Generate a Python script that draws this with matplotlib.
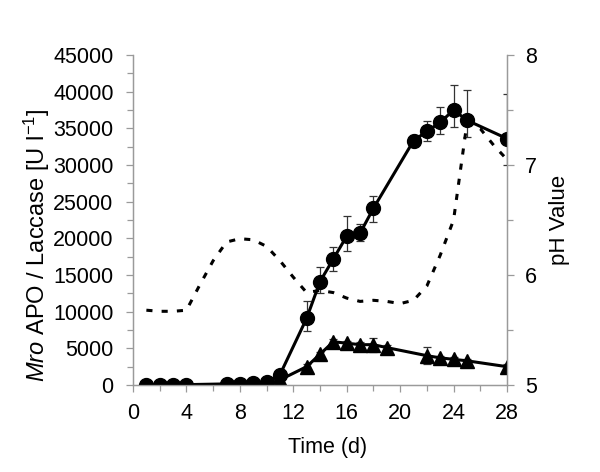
import numpy as np
import matplotlib
matplotlib.use("Agg")
import matplotlib.pyplot as plt
from matplotlib.ticker import MultipleLocator

plt.rcParams.update({
    "font.family": "Liberation Sans",
    "mathtext.fontset": "custom",
    "mathtext.rm": "Liberation Sans",
    "mathtext.it": "Liberation Sans:italic",
})

# Mro APO activity (circles)
apo_days = [1, 2, 3, 4, 7, 8, 9, 10, 11, 13, 14, 15, 16, 17, 18, 21, 22, 23, 24, 25, 28]
apo_vals = [0, 0, 0, 50, 150, 150, 250, 400, 1400, 9100, 14100, 17200, 20300, 20700,
            24100, 33300, 34600, 35800, 37500, 36100, 33600]
apo_err_lo = [0, 0, 0, 0, 0, 0, 100, 200, 500, 1800, 1500, 1600, 2000, 1000,
              1900, 600, 1300, 1600, 2300, 2300, 3600]
apo_err_hi = [0, 0, 0, 0, 0, 0, 100, 200, 500, 2300, 2000, 1600, 2700, 1300,
              1700, 800, 1400, 2100, 3400, 4100, 6100]

# Laccase activity (triangles)
lac_days = [1, 2, 3, 4, 7, 8, 9, 10, 11, 13, 14, 15, 16, 17, 18, 19, 22, 23, 24, 25, 28]
lac_vals = [0, 0, 0, 0, 0, 0, 0, 0, 700, 2500, 4200, 5900, 5700, 5500, 5500, 5100,
            4000, 3700, 3500, 3300, 2500]
lac_err = [0, 0, 0, 0, 0, 0, 0, 0, 200, 300, 300, 400, 300, 400, 950, 300,
           1200, 300, 300, 300, 300]

# pH value (dashed)
ph_days = list(range(1, 29))
ph_vals = [5.68, 5.67, 5.67, 5.68, 5.91, 6.13, 6.30, 6.33, 6.32, 6.26, 6.13, 5.98,
           5.84, 5.86, 5.84, 5.79, 5.76, 5.77, 5.76, 5.74, 5.77, 5.90, 6.18, 6.50,
           7.38, 7.33, 7.18, 7.05]

grey = "#9a9a9a"
fs = 15.5

fig = plt.figure(figsize=(6, 4.72), dpi=100)
ax = fig.add_axes([0.2217, 0.1843, 0.6233, 0.6992])
ax2 = ax.twinx()

ax.errorbar(apo_days, apo_vals, yerr=[apo_err_lo, apo_err_hi], color="black",
            lw=2.2, marker="o", ms=10, elinewidth=0.9, ecolor="#333333",
            capsize=2.7, capthick=0.9, zorder=3)
ax.errorbar(lac_days, lac_vals, yerr=lac_err, color="black", lw=2.2, marker="^",
            ms=10, elinewidth=0.9, ecolor="#333333", capsize=2.7, capthick=0.9, zorder=3)

line, = ax2.plot(ph_days, ph_vals, color="black", lw=2.2)
line.set_dashes((2.0, 3.0))

ax.set_xlim(0, 28)
ax.set_ylim(0, 45000)
ax2.set_ylim(5, 8)

ax.xaxis.set_major_locator(MultipleLocator(4))
ax.xaxis.set_minor_locator(MultipleLocator(2))
ax.yaxis.set_major_locator(MultipleLocator(5000))
ax.yaxis.set_minor_locator(MultipleLocator(2500))
ax2.yaxis.set_major_locator(MultipleLocator(1))
ax2.yaxis.set_minor_locator(MultipleLocator(0.5))

for a in (ax, ax2):
    for s in a.spines.values():
        s.set_color(grey)
        s.set_linewidth(0.9)
    a.spines["top"].set_visible(False)
    a.tick_params(which="both", color=grey, width=0.9, labelsize=fs)
    a.tick_params(which="major", length=5)
    a.tick_params(which="minor", length=4)
ax.tick_params(axis="x", pad=8)
ax.tick_params(axis="y", pad=9)
ax2.tick_params(axis="y", pad=8)

fig.text(328 / 600, 1 - 448 / 472, "Time (d)", fontsize=fs, ha="center", va="center")
fig.text(37 / 600, 1 - 245 / 472,
         r"$\mathit{Mro}$ APO / Laccase [U l$^{\mathregular{-1}}$]",
         fontsize=17, rotation=90, ha="center", va="center")
fig.text(560 / 600, 1 - 220 / 472, "pH Value", fontsize=16, rotation=90,
         ha="center", va="center")

fig.savefig("out.png", dpi=100)
